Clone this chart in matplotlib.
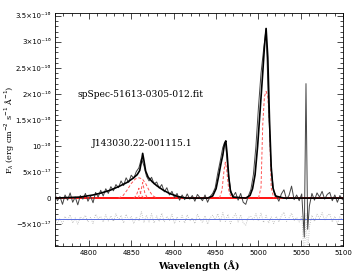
import numpy as np
import matplotlib
matplotlib.use('Agg')
import matplotlib.pyplot as plt
from matplotlib.ticker import MultipleLocator, FuncFormatter

unit = 1e-17

# observed spectrum (units of 1e-17 erg/cm2/s/A)
wave = np.concatenate([np.arange(4760, 5052, 3), [5052, 5054, 5056, 5058, 5060], np.arange(5063, 5100, 3)])
flux = [0.8, -0.5, 0.3, -1.2, 0.6, -0.4, 1.0, -0.8, 0.2, -1.3,
        0.5, -0.2, 0.9, -0.6, 0.4, -0.9, 1.1, 0.2, 1.5, 0.4,
        1.8, 0.9, 2.2, 1.4, 2.6, 2.0, 3.3, 2.4, 3.9, 3.0,
        4.4, 3.8, 5.1, 5.8, 7.6, 6.2, 4.2, 3.3, 4.0, 2.7,
        3.1, 1.9, 2.6, 1.2, 2.0, 0.6, 1.3, 0.1, 0.9, -0.4,
        0.6, -0.3, 0.8, -0.2, 0.5, -0.6, 0.7, 0.1, -0.5, 0.6,
        -0.8, 0.3, 0.9, 2.0, 4.8, 7.2, 9.8, 10.8, 5.5, 1.6,
        0.3, 1.1, -0.4, 0.9, -0.8, -1.2, 0.4, 1.6, 4.5, 10.0,
        17.5, 24.0, 28.5, 32.6, 17.0, 5.5, 1.3, 0.4, -0.6, 0.8,
        1.6, -0.2, 0.5, 2.3, -0.3, 0.6, -0.5, 0.8,
        -2.0, -7.5, 22.0, -6.0, -1.5,
        0.9, -0.4, 1.0, 0.2, 1.3, -0.2, 0.7, 1.1, -0.5, 0.6, -0.8, 0.5, -0.3]

# residuals, shifted down to the -4e-17 reference line
resid = [-3.4, -4.7, -3.9, -4.9, -3.5, -4.3, -3.2, -4.8, -3.8, -5.0,
         -3.6, -4.1, -3.3, -4.6, -3.7, -4.9, -3.1, -4.0, -3.5, -4.6,
         -3.2, -4.4, -3.4, -4.5, -3.0, -4.2, -3.3, -4.8, -3.1, -4.3,
         -3.5, -4.9, -3.6, -4.4, -2.6, -4.7, -3.3, -4.6, -3.0, -4.8,
         -3.4, -4.5, -2.9, -4.6, -3.5, -4.3, -3.1, -4.9, -3.6, -4.5,
         -3.3, -4.8, -3.2, -4.4, -3.8, -4.9, -3.1, -4.0, -4.7, -3.4,
         -5.0, -3.8, -3.3, -4.2, -3.0, -4.6, -2.8, -4.5, -3.1, -4.9,
         -3.7, -3.0, -4.6, -3.2, -4.8, -5.2, -3.7, -3.5, -4.2, -3.0,
         -4.4, -2.9, -4.7, -3.3, -4.8, -3.6, -4.9, -3.5, -4.6, -3.4,
         -2.7, -4.5, -3.8, -2.9, -4.3, -3.7, -4.6, -3.5,
         -6.0, -12.0, -3.0, -11.0, -5.5,
         -3.3, -4.5, -3.1, -3.9, -2.8, -4.3, -3.4, -3.0, -4.6, -3.5, -4.9, -3.6, -4.2]
resid_level = -4.0

# total fitted model
model_wave = [4760, 4790, 4805, 4815, 4825, 4835, 4845, 4852, 4857, 4860, 4862, 4863.5,
              4865, 4867, 4870, 4875, 4880, 4887, 4895, 4905, 4915, 4940, 4946, 4950,
              4953, 4956, 4958, 4960, 4961.5, 4963, 4965, 4967, 4970, 4985, 4990, 4993,
              4996, 4999, 5002, 5005, 5007, 5009, 5011, 5013, 5015, 5017, 5020, 5030, 5100]
model_flux = [0.0, 0.2, 0.6, 1.0, 1.5, 2.2, 3.0, 3.8, 4.5, 5.3, 7.0, 8.6,
              7.2, 5.2, 4.0, 3.1, 2.4, 1.6, 0.9, 0.3, 0.0, 0.0, 0.4, 1.8,
              4.2, 6.8, 8.3, 10.5, 11.0, 8.5, 4.0, 1.3, 0.2, 0.0, 0.5, 1.8,
              4.5, 10.0, 17.0, 24.0, 29.0, 32.6, 27.0, 15.0, 6.0, 2.0, 0.4, 0.0, 0.0]

# individual components (red dashed)
hb_broad_w = [4835, 4840, 4845, 4850, 4855, 4859, 4863, 4867, 4871, 4875, 4880]
hb_broad_f = [0.0, 0.4, 1.5, 2.8, 3.7, 3.9, 3.7, 2.8, 1.5, 0.5, 0.0]
hb_n1_w = [4853, 4856, 4859, 4862, 4865]
hb_n1_f = [0.0, 0.5, 1.9, 0.5, 0.0]
hb_n2_w = [4858, 4861, 4863.5, 4866, 4869]
hb_n2_f = [0.0, 1.0, 3.0, 1.0, 0.0]
o3a_w = [4954, 4957, 4959.5, 4961, 4962.5, 4965, 4968]
o3a_f = [0.0, 1.5, 5.5, 6.9, 5.5, 1.5, 0.0]
o3b_w = [5000, 5003, 5005, 5007, 5009, 5011, 5013, 5015, 5018]
o3b_f = [0.0, 2.0, 14.0, 19.5, 20.5, 19.5, 14.0, 2.0, 0.0]

sup = str.maketrans('-0123456789', '⁻⁰¹²³⁴⁵⁶⁷⁸⁹')


def sci_fmt(v, pos):
    if abs(v) < 1e-20:
        return '0'
    exp = int(np.floor(np.log10(abs(v)) + 1e-9))
    mant = v / 10 ** exp
    sign = '\u2212' if mant < 0 else ''
    e = str(exp).translate(sup)
    if abs(abs(mant) - 1) < 1e-6:
        return sign + '10' + e
    return sign + ('%g' % abs(mant)) + '×10' + e


fig = plt.figure(figsize=(3.61, 2.73), dpi=100)
ax = fig.add_axes([0.152, 0.099, 0.799, 0.852])

ax.axhline(0, color='red', lw=1.3, zorder=2)
ax.axhline(resid_level * unit, color='#5a6ee0', lw=0.7, zorder=2)
ax.plot(wave, np.array(resid) * unit, color='#b0b0b0', lw=0.6, ls=':', zorder=1)
for w, f in [(hb_broad_w, hb_broad_f), (hb_n1_w, hb_n1_f), (hb_n2_w, hb_n2_f),
             (o3a_w, o3a_f), (o3b_w, o3b_f)]:
    ax.plot(w, np.array(f) * unit, color='#ff5555', lw=0.7, ls=(0, (3, 2)), zorder=3)
ax.plot(wave, np.array(flux) * unit, color='#444444', lw=0.7, zorder=4)
ax.plot(model_wave, np.array(model_flux) * unit, color='black', lw=1.2, zorder=5)

ax.set_xlim(4760, 5100)
ax.set_ylim(-9.2e-17, 3.55e-16)
ax.xaxis.set_major_locator(MultipleLocator(50))
ax.xaxis.set_minor_locator(MultipleLocator(10))
ax.yaxis.set_major_locator(MultipleLocator(5e-17))
ax.yaxis.set_minor_locator(MultipleLocator(1e-17))
ax.yaxis.set_major_formatter(FuncFormatter(sci_fmt))
ax.tick_params(which='both', direction='in', top=True, right=True, labelsize=5, width=0.5, pad=3)
ax.tick_params(which='major', length=4)
ax.tick_params(which='minor', length=2)
for sp in ax.spines.values():
    sp.set_linewidth(0.6)

ax.text(4787, 2.0e-16, 'spSpec-51613-0305-012.fit', fontsize=6.6, family='DejaVu Serif', va='center')
ax.text(4804, 1.05e-16, 'J143030.22-001115.1', fontsize=6.6, family='DejaVu Serif', va='center')
ax.set_xlabel('Wavelength (Å)', fontsize=6.8, family='DejaVu Serif', fontweight='bold', labelpad=3)
ax.set_ylabel('F$_\\lambda$ (erg cm$^{-2}$ s$^{-1}$ Å$^{-1}$)', fontsize=5.8, family='DejaVu Serif')
ax.yaxis.set_label_coords(-0.13, 0.5)

fig.savefig('out.png', dpi=100)
